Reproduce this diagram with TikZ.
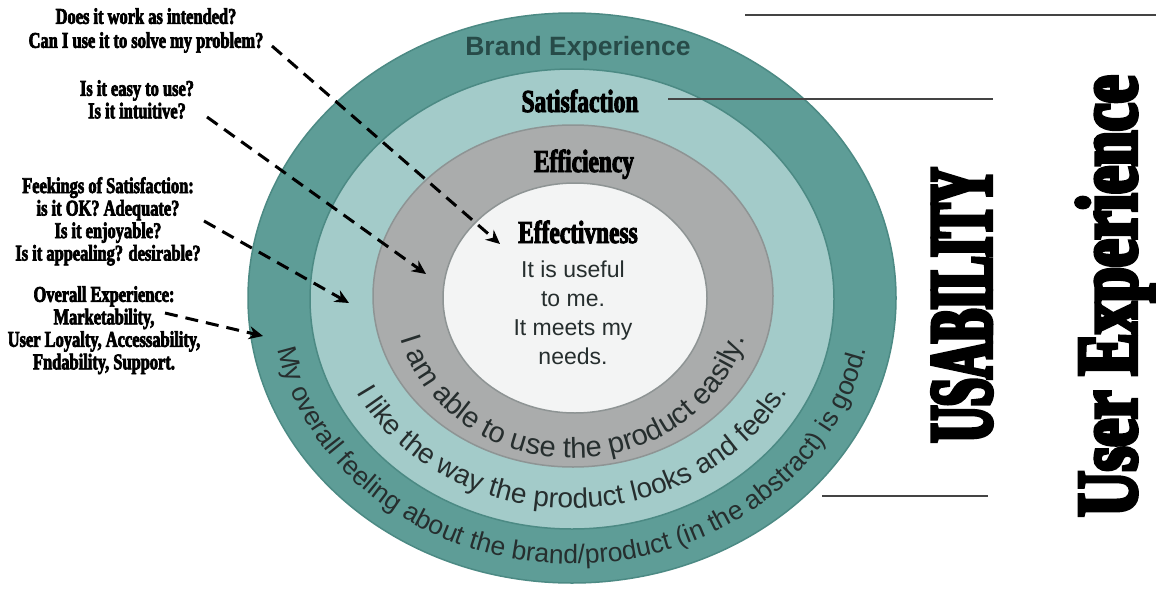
\documentclass[tikz,border=0pt]{standalone}
\usepackage{fontspec}
\setmainfont{Liberation Serif}
\newfontfamily\sansf{Liberation Sans}
\newfontfamily\cndA[FakeStretch=0.73,FakeBold=3]{Liberation Serif}
\newfontfamily\cndB[FakeStretch=0.56,FakeBold=5]{Liberation Serif}
\newfontfamily\cndC[FakeStretch=0.73,FakeBold=5]{Liberation Serif}
\usetikzlibrary{arrows.meta,decorations.text,shapes.geometric}
\definecolor{tealdark}{HTML}{5E9D97}
\definecolor{teallight}{HTML}{A3CBC9}
\definecolor{ringgray}{HTML}{AAACAC}
\definecolor{innerwhite}{HTML}{F3F4F4}
\definecolor{edgeteal}{HTML}{4C8A84}
\definecolor{edgegray}{HTML}{8E9494}
\definecolor{brandtxt}{HTML}{274B48}
\definecolor{ringtxt}{HTML}{262E2E}
\definecolor{linegray}{HTML}{444444}
\begin{document}
\begin{tikzpicture}[x=1pt,y=1pt,
  ring/.style={ellipse, inner sep=0pt, line width=1.5pt},
  qtext/.style={font=\cndA\bfseries\fontsize{22.5}{22.5}\selectfont, align=center, inner sep=0pt, anchor=north},
  layer/.style={font=\cndA\bfseries\fontsize{32}{32}\selectfont, inner sep=0pt, anchor=base},
  bigv/.style={rotate=90, inner sep=0pt, anchor=base},
  dasharrow/.style={line width=3pt, dash pattern=on 13pt off 8pt, -{Stealth[length=14pt,width=13pt]}},
  rline/.style={line width=1.6pt, draw=linegray},
  ringlabel/.style={decorate, decoration={text along path, text align=center, text color=ringtxt}}
]
\useasboundingbox (0,0) rectangle (1156,-594);
\fill[white] (0,0) rectangle (1156,-594);

% rings
\node[ring, draw=edgeteal, fill=tealdark, minimum width=648pt, minimum height=570pt] (brand) at (572,-298) {};
\node[ring, draw=edgeteal, fill=teallight, minimum width=524pt, minimum height=460pt] (satis) at (572,-299) {};
\node[ring, draw=edgegray, fill=ringgray, minimum width=400pt, minimum height=342pt] (effic) at (573,-296) {};
\node[ring, draw=edgegray, fill=innerwhite, minimum width=264pt, minimum height=230pt] (effec) at (575,-298) {};

% ring titles
\node[inner sep=0pt, anchor=base, font=\sansf\bfseries\fontsize{26.5}{26.5}\selectfont, text=brandtxt] (tbrand) at (578,-56) {Brand Experience};
\node[layer] (tsat) at (580,-112) {Satisfaction};
\node[layer] (teff) at (584,-172) {Efficiency};
\node[layer] (teffec) at (578,-243) {Effectivness};
\node[inner sep=0pt, anchor=north, align=center, font=\sansf\fontsize{23}{29}\selectfont, text=ringtxt] (tinner) at (573,-261) {It is useful\\to me.\\It meets my\\needs.};

% curved texts
\path[ringlabel, decoration={text={|\sansf\fontsize{29}{29}\selectfont|I am able to use the product easily.}}]
  (395,-297) arc[start angle=180, end angle=360, x radius=178pt, y radius=161pt];
\path[ringlabel, decoration={text={|\sansf\fontsize{28}{28}\selectfont|I like the way the product looks and feels.}}]
  (331,-298) arc[start angle=180, end angle=360, x radius=241pt, y radius=210pt];
\path[ringlabel, decoration={text={|\sansf\fontsize{26.5}{26.5}\selectfont|My overall feeling about the brand/product (in the abstract) is good.}}]
  (272,-298) arc[start angle=180, end angle=360, x radius=300pt, y radius=266pt];

% left questions
\node[qtext, font=\cndA\bfseries\fontsize{22.5}{24}\selectfont] (q1) at (146,-8) {Does it work as intended?\\Can I use it to solve my problem?};
\node[qtext] (q2) at (137,-80) {Is it easy to use?\\Is it intuitive?};
\node[qtext] (q3) at (108,-177) {Feekings of Satisfaction:\\is it OK? Adequate?\\Is it enjoyable?\\Is it appealing? desirable?};
\node[qtext] (q4) at (104,-286) {Overall Experience:\\Marketability,\\User Loyalty, Accessability,\\Fndability, Support.};

% arrows
\coordinate (s1) at (272,-46);
\coordinate (e1) at (500,-244);
\coordinate (s2) at (207,-117);
\coordinate (e2) at (426,-274);
\coordinate (s3) at (204,-221);
\coordinate (e3) at (349,-303);
\coordinate (s4) at (165,-313);
\coordinate (e4) at (263,-336);
\draw[dasharrow] (s1) -- (e1);
\draw[dasharrow] (s2) -- (e2);
\draw[dasharrow] (s3) -- (e3);
\draw[dasharrow] (s4) -- (e4);

% right side
\node[bigv, font=\cndB\bfseries\fontsize{89}{89}\selectfont] (usab) at (991,-305) {USABILITY};
\node[bigv, font=\cndC\bfseries\fontsize{86}{86}\selectfont] (ux) at (1136,-296) {User Experience};

\coordinate (l1a) at (745,-15);
\coordinate (l1b) at (1156,-15);
\coordinate (l2a) at (668,-99);
\coordinate (l2b) at (993,-99);
\coordinate (l3a) at (822,-496);
\coordinate (l3b) at (988,-496);
\draw[rline] (l1a) -- (l1b);
\draw[rline] (l2a) -- (l2b);
\draw[rline] (l3a) -- (l3b);
\end{tikzpicture}
\end{document}
